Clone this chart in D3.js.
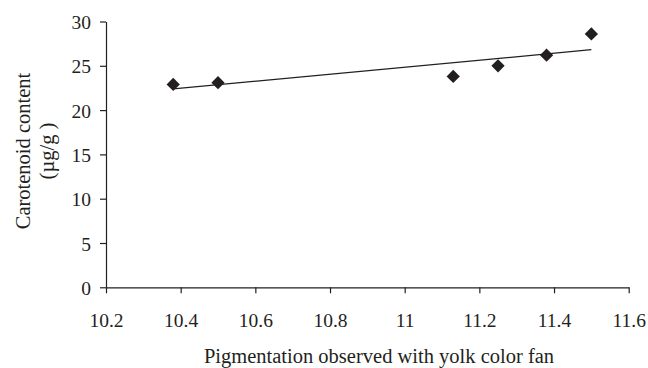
<!DOCTYPE html>
<html>
<head>
<meta charset="utf-8">
<script src="https://cdn.jsdelivr.net/npm/d3@7"></script>
<style>
html,body{margin:0;padding:0;background:#fff;}
svg text{font-family:"Liberation Serif","Times New Roman",serif;fill:#231f20;}
</style>
</head>
<body>
<svg id="chart" width="648" height="368"></svg>
<script>
const pigmentation = [10.38, 10.5, 11.13, 11.25, 11.38, 11.5];
const carotenoid = [22.9, 23.1, 23.8, 25.0, 26.2, 28.6];
const xTicks = [10.2, 10.4, 10.6, 10.8, 11, 11.2, 11.4, 11.6];
const yTicks = [0, 5, 10, 15, 20, 25, 30];
const xTitle = "Pigmentation observed with yolk color fan";
const yTitle = ["Carotenoid content", "(\u00b5g/g )"];

(function () {
const svg = d3.select("#chart");
const mLeft = 106, mRight = 628.7, mTop = 21.5, mBottom = 287.3;
const x = d3.scaleLinear().domain([10.2, 11.6]).range([mLeft, mRight]);
const y = d3.scaleLinear().domain([0, 30]).range([mBottom, mTop]);
const ink = "#231f20";
const serif = '"Liberation Serif","Times New Roman",serif';

const xAxis = svg.append("g").attr("transform", `translate(0,${mBottom})`)
  .call(d3.axisBottom(x).tickValues(xTicks).tickSize(6).tickSizeOuter(0).tickPadding(10)
    .tickFormat(d => String(+d.toFixed(1))));
xAxis.selectAll("text").attr("dy", null).attr("y", 40);
const yAxis = svg.append("g").attr("transform", `translate(${mLeft},0)`)
  .call(d3.axisLeft(y).tickValues(yTicks).tickSize(6).tickSizeOuter(0).tickPadding(9));
yAxis.selectAll("text").attr("dy", "0.36em");
[xAxis, yAxis].forEach(g => {
  g.selectAll("path, line").attr("stroke", ink).attr("stroke-width", 1.2);
  g.selectAll("text").attr("font-size", 19.5).attr("fill", ink).attr("font-family", serif);
});

// linear trendline (least squares)
const n = pigmentation.length;
const mx = d3.mean(pigmentation), my = d3.mean(carotenoid);
let sxy = 0, sxx = 0;
for (let i = 0; i < n; i++) { sxy += (pigmentation[i]-mx)*(carotenoid[i]-my); sxx += (pigmentation[i]-mx)**2; }
const slope = sxy / sxx, icpt = my - slope*mx;
const x0 = d3.min(pigmentation), x1 = d3.max(pigmentation);
svg.append("line")
  .attr("x1", x(x0)).attr("y1", y(icpt + slope*x0))
  .attr("x2", x(x1)).attr("y2", y(icpt + slope*x1))
  .attr("stroke", ink).attr("stroke-width", 1.2);

const sym = d3.symbol().type(d3.symbolSquare).size(88);
svg.append("g").selectAll("path").data(pigmentation.map((p,i)=>[p, carotenoid[i]]))
  .join("path")
  .attr("d", sym)
  .attr("transform", d => `translate(${x(d[0])},${y(d[1])}) rotate(45)`)
  .attr("fill", ink);

svg.append("text").attr("x", 379).attr("y", 363)
  .attr("text-anchor", "middle").attr("font-size", 20.5).text(xTitle);

const yt = svg.append("text").attr("transform", "translate(0,151) rotate(-90)")
  .attr("text-anchor", "middle").attr("font-size", 20.5);
yt.append("tspan").attr("x", 0).attr("y", 30).text(yTitle[0]);
yt.append("tspan").attr("x", 0).attr("y", 54).text(yTitle[1]);
})();
</script>
</body>
</html>
